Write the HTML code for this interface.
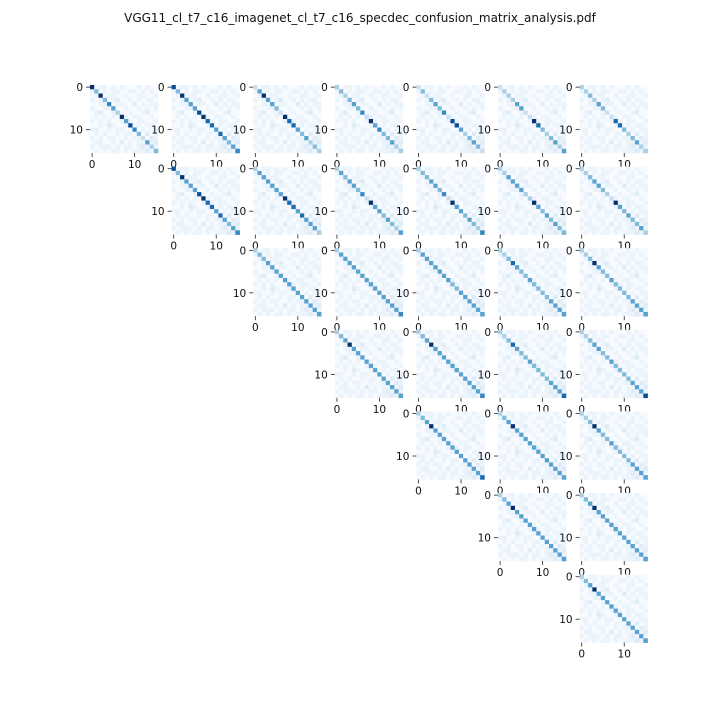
<!DOCTYPE html>
<html><head><meta charset="utf-8"><style>
body{margin:0;background:#fff;width:720px;height:720px;overflow:hidden}
svg{display:block}
text{font-family:"DejaVu Sans","Liberation Sans",sans-serif;fill:#111}
</style></head><body>
<svg id="chart" width="720" height="720" viewBox="0 0 720 720">
<text x="360" y="22" text-anchor="middle" font-size="12">VGG11_cl_t7_c16_imagenet_cl_t7_c16_specdec_confusion_matrix_analysis.pdf</text>
</svg>
<script>
// diagonal intensity (0-9) per panel, keyed "row-col"
const diagonals = {
 "0-0":"9494653958642534","0-1":"8495558977575456","0-2":"2595542977545343","0-3":"3434546295644533","0-4":"2424546288534542","0-5":"2333552297434535","0-6":"3343542277434533",
 "1-1":"8495558977575456","1-2":"3555555977575553","1-3":"3545546295545435","1-4":"3445546295545436","1-5":"3355553395454544","1-6":"3345543295454453",
 "2-2":"3445555555555555","2-3":"3555555555555556","2-4":"3555555544555555","2-5":"3347544544445555","2-6":"3349544544445555",
 "3-3":"3459555555555555","3-4":"3459555555555556","3-5":"3347544544445557","3-6":"3345544544445558",
 "4-4":"3459555555555557","4-5":"3459555555555555","4-6":"3349544544445555",
 "5-5":"3459555555555555","5-6":"3459555555555555",
 "6-6":"3459555555555555"
};
// shared light off-diagonal background (0-3)
const background = [
 "0011010100010100","1001011001101010","0100110010011001","1010012001010110",
 "0011001100201011","1001100010010101","0120011001001200","0101010010110010",
 "1010100101011001","0010210010010110","1100101100001011","0101001011010201",
 "1010110010110021","0110010201011012","1011101011012101","0101011010111210"
];
const tickLabels = ["0","10"];
const tickIdx = [0,10];

const stops=[[0,"f7fbff"],[.125,"deebf7"],[.25,"c6dbef"],[.375,"9ecae1"],[.5,"6baed6"],[.625,"4292c6"],[.75,"2171b5"],[.875,"08519c"],[1,"08306b"]];
function blues(t){t=Math.max(0,Math.min(1,t));for(let i=1;i<stops.length;i++){if(t<=stops[i][0]){const a=stops[i-1],b=stops[i],f=(t-a[0])/(b[0]-a[0]);const ca=parseInt(a[1],16),cb=parseInt(b[1],16);const c=[16,8,0].map(s=>Math.round(((ca>>s)&255)*(1-f)+((cb>>s)&255)*f));return `rgb(${c.join(",")})`;}}return "#08306b";}
const NS="http://www.w3.org/2000/svg",svg=document.getElementById("chart");
const X0=90,Y0=85,STEP=81.6,SIZE=68,N=16,CELL=SIZE/N;
function xs(i){return i*CELL;}
function mk(tag,attrs,parent){const e=document.createElementNS(NS,tag);for(const k in attrs)e.setAttribute(k,attrs[k]);parent.appendChild(e);return e;}
for(let r=0;r<7;r++)for(let c=r;c<7;c++){
 const d=diagonals[r+"-"+c];
 const g=mk("g",{transform:`translate(${X0+c*STEP},${Y0+r*STEP})`},svg);
 
 
 for(let i=0;i<N;i++)for(let j=0;j<N;j++){
  const v=i===j?(+d[i])/9:(+background[i][j])*0.06;
  const rc=mk("rect",{x:xs(j),y:xs(i),width:CELL+0.3,height:CELL+0.3,fill:blues(v)},g);
  
  
 }
 tickIdx.forEach((t,k)=>{
  const p=xs(t)+CELL/2;
  mk("line",{x1:-4,x2:0,y1:p,y2:p,stroke:"#222","stroke-width":0.8},g);
  const ty=mk("text",{x:-7,y:p+4,"text-anchor":"end","font-size":10.5},g);ty.textContent=tickLabels[k];
  
  
  mk("line",{x1:p,x2:p,y1:SIZE,y2:SIZE+4,stroke:"#222","stroke-width":0.8},g);
  const tx=mk("text",{x:p,y:SIZE+15,"text-anchor":"middle","font-size":10.5},g);tx.textContent=tickLabels[k];
  
  
 });
}
</script>
</body></html>
